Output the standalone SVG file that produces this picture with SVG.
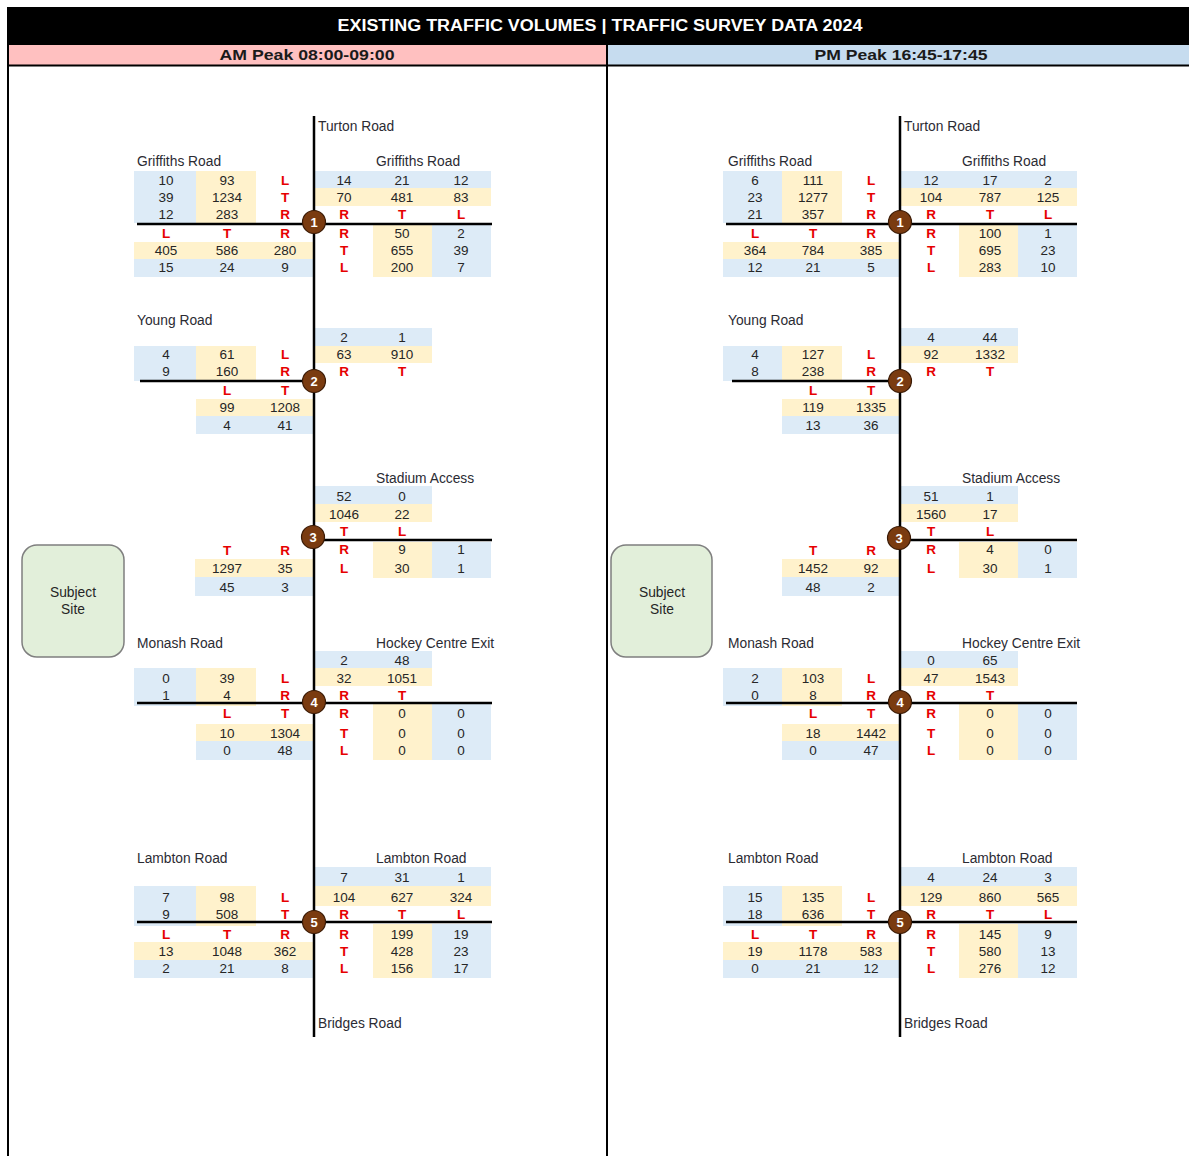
<svg xmlns="http://www.w3.org/2000/svg" width="1189" height="1156" viewBox="0 0 1189 1156">
<style>
text{font-family:"Liberation Sans",Arial,sans-serif}
.n{font-size:13.5px;fill:#262626;text-anchor:middle;dominant-baseline:central}
.d{font-size:13.5px;font-weight:bold;fill:#E60000;text-anchor:middle;dominant-baseline:central}
.lbl{font-size:13.8px;fill:#2b2b33;dominant-baseline:central}
.b{fill:#DDEBF7}
.y{fill:#FFF2CC}
.road{stroke:#000;stroke-width:2.5;fill:none}
.frame{stroke:#000;stroke-width:2;fill:none}
.node circle{fill:#7A3B10;stroke:#3a1a05;stroke-width:1.2}
.node text{font-size:13px;font-weight:bold;fill:#fff;text-anchor:middle;dominant-baseline:central}
.site rect{fill:#E2EFDA;stroke:#7f7f7f;stroke-width:1.5}
.site text{font-size:13.8px;fill:#262626;text-anchor:middle;dominant-baseline:central}
</style>

<!-- header -->
<g id="header">
<rect x="7" y="7" width="1182" height="38" fill="#000"/>
<text x="600" y="25" fill="#fff" font-size="16" font-weight="bold" text-anchor="middle" dominant-baseline="central" textLength="525" lengthAdjust="spacingAndGlyphs">EXISTING TRAFFIC VOLUMES | TRAFFIC SURVEY DATA 2024</text>
<rect x="8" y="45" width="598" height="20" fill="#FFC0C0"/>
<rect x="608" y="45" width="581" height="20" fill="#C6DCEF"/>
<text x="307" y="55" fill="#1a1a1a" font-size="14.5" font-weight="bold" text-anchor="middle" dominant-baseline="central" textLength="175" lengthAdjust="spacingAndGlyphs">AM Peak 08:00-09:00</text>
<text x="901" y="55" fill="#1a1a1a" font-size="14.5" font-weight="bold" text-anchor="middle" dominant-baseline="central" textLength="173" lengthAdjust="spacingAndGlyphs">PM Peak 16:45-17:45</text>
<line class="frame" x1="8" y1="44" x2="8" y2="1156"/>
<line class="frame" x1="607" y1="44" x2="607" y2="1156"/>
<line class="frame" x1="7" y1="65.5" x2="1189" y2="65.5"/>
</g>

<!-- ================= AM PANEL ================= -->
<g id="am-panel">
<g id="am-site" class="site">
<rect x="22" y="545" width="102" height="112" rx="15"/>
<text x="73" y="592">Subject</text>
<text x="73" y="609">Site</text>
</g>

<g id="am-int1">
<rect class="b" x="134" y="171" width="62" height="52"/>
<rect class="y" x="196" y="171" width="60" height="52"/>
<rect class="b" x="314" y="171" width="177" height="17"/>
<rect class="y" x="314" y="188" width="177" height="18"/>
<rect class="y" x="134" y="242" width="180" height="17"/>
<rect class="b" x="134" y="259" width="180" height="18"/>
<rect class="y" x="373" y="225" width="59" height="52"/>
<rect class="b" x="432" y="225" width="59" height="52"/>
<text class="lbl" x="318" y="126">Turton Road</text>
<text class="lbl" x="137" y="161">Griffiths Road</text>
<text class="lbl" x="376" y="161">Griffiths Road</text>
<text class="n" x="166" y="180">10</text><text class="n" x="227" y="180">93</text><text class="d" x="285" y="180">L</text>
<text class="n" x="166" y="197">39</text><text class="n" x="227" y="197">1234</text><text class="d" x="285" y="197">T</text>
<text class="n" x="166" y="214">12</text><text class="n" x="227" y="214">283</text><text class="d" x="285" y="214">R</text>
<text class="n" x="344" y="180">14</text><text class="n" x="402" y="180">21</text><text class="n" x="461" y="180">12</text>
<text class="n" x="344" y="197">70</text><text class="n" x="402" y="197">481</text><text class="n" x="461" y="197">83</text>
<text class="d" x="344" y="214">R</text><text class="d" x="402" y="214">T</text><text class="d" x="461" y="214">L</text>
<text class="d" x="166" y="233">L</text><text class="d" x="227" y="233">T</text><text class="d" x="285" y="233">R</text>
<text class="n" x="166" y="250">405</text><text class="n" x="227" y="250">586</text><text class="n" x="285" y="250">280</text>
<text class="n" x="166" y="267">15</text><text class="n" x="227" y="267">24</text><text class="n" x="285" y="267">9</text>
<text class="d" x="344" y="233">R</text><text class="n" x="402" y="233">50</text><text class="n" x="461" y="233">2</text>
<text class="d" x="344" y="250">T</text><text class="n" x="402" y="250">655</text><text class="n" x="461" y="250">39</text>
<text class="d" x="344" y="267">L</text><text class="n" x="402" y="267">200</text><text class="n" x="461" y="267">7</text>
</g>

<g id="am-int2">
<rect class="b" x="314" y="328" width="118" height="18"/>
<rect class="y" x="314" y="346" width="118" height="17"/>
<rect class="b" x="134" y="346" width="62" height="35"/>
<rect class="y" x="196" y="346" width="60" height="35"/>
<rect class="y" x="196" y="399" width="118" height="17"/>
<rect class="b" x="196" y="416" width="118" height="18"/>
<text class="lbl" x="137" y="320">Young Road</text>
<text class="n" x="344" y="337">2</text><text class="n" x="402" y="337">1</text>
<text class="n" x="166" y="354">4</text><text class="n" x="227" y="354">61</text><text class="d" x="285" y="354">L</text>
<text class="n" x="344" y="354">63</text><text class="n" x="402" y="354">910</text>
<text class="n" x="166" y="371">9</text><text class="n" x="227" y="371">160</text><text class="d" x="285" y="371">R</text>
<text class="d" x="344" y="371">R</text><text class="d" x="402" y="371">T</text>
<text class="d" x="227" y="390">L</text><text class="d" x="285" y="390">T</text>
<text class="n" x="227" y="407">99</text><text class="n" x="285" y="407">1208</text>
<text class="n" x="227" y="425">4</text><text class="n" x="285" y="425">41</text>
</g>

<g id="am-int3">
<rect class="b" x="314" y="486" width="118" height="18"/>
<rect class="y" x="314" y="504" width="118" height="18"/>
<rect class="y" x="373" y="542" width="59" height="36"/>
<rect class="b" x="432" y="542" width="59" height="36"/>
<rect class="y" x="195" y="559" width="119" height="18"/>
<rect class="b" x="195" y="577" width="119" height="19"/>
<text class="lbl" x="376" y="478">Stadium Access</text>
<text class="n" x="344" y="496">52</text><text class="n" x="402" y="496">0</text>
<text class="n" x="344" y="514">1046</text><text class="n" x="402" y="514">22</text>
<text class="d" x="344" y="531">T</text><text class="d" x="402" y="531">L</text>
<text class="d" x="344" y="549">R</text><text class="n" x="402" y="549">9</text><text class="n" x="461" y="549">1</text>
<text class="d" x="344" y="568">L</text><text class="n" x="402" y="568">30</text><text class="n" x="461" y="568">1</text>
<text class="d" x="227" y="550">T</text><text class="d" x="285" y="550">R</text>
<text class="n" x="227" y="568">1297</text><text class="n" x="285" y="568">35</text>
<text class="n" x="227" y="587">45</text><text class="n" x="285" y="587">3</text>
</g>

<g id="am-int4">
<rect class="b" x="314" y="651" width="118" height="17"/>
<rect class="y" x="314" y="668" width="118" height="18"/>
<rect class="b" x="134" y="668" width="62" height="38"/>
<rect class="y" x="196" y="668" width="60" height="38"/>
<rect class="y" x="196" y="724" width="118" height="17"/>
<rect class="b" x="196" y="741" width="118" height="19"/>
<rect class="y" x="373" y="704" width="59" height="56"/>
<rect class="b" x="432" y="704" width="59" height="56"/>
<text class="lbl" x="137" y="643">Monash Road</text>
<text class="lbl" x="376" y="643">Hockey Centre Exit</text>
<text class="n" x="344" y="660">2</text><text class="n" x="402" y="660">48</text>
<text class="n" x="166" y="678">0</text><text class="n" x="227" y="678">39</text><text class="d" x="285" y="678">L</text>
<text class="n" x="344" y="678">32</text><text class="n" x="402" y="678">1051</text>
<text class="n" x="166" y="695">1</text><text class="n" x="227" y="695">4</text><text class="d" x="285" y="695">R</text>
<text class="d" x="344" y="695">R</text><text class="d" x="402" y="695">T</text>
<text class="d" x="227" y="713">L</text><text class="d" x="285" y="713">T</text>
<text class="n" x="227" y="733">10</text><text class="n" x="285" y="733">1304</text>
<text class="n" x="227" y="750">0</text><text class="n" x="285" y="750">48</text>
<text class="d" x="344" y="713">R</text><text class="n" x="402" y="713">0</text><text class="n" x="461" y="713">0</text>
<text class="d" x="344" y="733">T</text><text class="n" x="402" y="733">0</text><text class="n" x="461" y="733">0</text>
<text class="d" x="344" y="750">L</text><text class="n" x="402" y="750">0</text><text class="n" x="461" y="750">0</text>
</g>

<g id="am-int5">
<rect class="b" x="314" y="867" width="177" height="19"/>
<rect class="y" x="314" y="886" width="177" height="20"/>
<rect class="b" x="134" y="886" width="62" height="40"/>
<rect class="y" x="196" y="886" width="60" height="40"/>
<rect class="y" x="134" y="942" width="180" height="18"/>
<rect class="b" x="134" y="960" width="180" height="18"/>
<rect class="y" x="373" y="924" width="59" height="54"/>
<rect class="b" x="432" y="924" width="59" height="54"/>
<text class="lbl" x="137" y="858">Lambton Road</text>
<text class="lbl" x="376" y="858">Lambton Road</text>
<text class="n" x="344" y="877">7</text><text class="n" x="402" y="877">31</text><text class="n" x="461" y="877">1</text>
<text class="n" x="166" y="897">7</text><text class="n" x="227" y="897">98</text><text class="d" x="285" y="897">L</text>
<text class="n" x="344" y="897">104</text><text class="n" x="402" y="897">627</text><text class="n" x="461" y="897">324</text>
<text class="n" x="166" y="914">9</text><text class="n" x="227" y="914">508</text><text class="d" x="285" y="914">T</text>
<text class="d" x="344" y="914">R</text><text class="d" x="402" y="914">T</text><text class="d" x="461" y="914">L</text>
<text class="d" x="166" y="934">L</text><text class="d" x="227" y="934">T</text><text class="d" x="285" y="934">R</text>
<text class="n" x="166" y="951">13</text><text class="n" x="227" y="951">1048</text><text class="n" x="285" y="951">362</text>
<text class="n" x="166" y="968">2</text><text class="n" x="227" y="968">21</text><text class="n" x="285" y="968">8</text>
<text class="d" x="344" y="934">R</text><text class="n" x="402" y="934">199</text><text class="n" x="461" y="934">19</text>
<text class="d" x="344" y="951">T</text><text class="n" x="402" y="951">428</text><text class="n" x="461" y="951">23</text>
<text class="d" x="344" y="968">L</text><text class="n" x="402" y="968">156</text><text class="n" x="461" y="968">17</text>
<text class="lbl" x="318" y="1023">Bridges Road</text>
</g>

<g id="am-roads">
<line class="road" x1="314" y1="116" x2="314" y2="1037"/>
<line class="road" x1="137" y1="224" x2="492" y2="224"/>
<line class="road" x1="140" y1="381" x2="314" y2="381"/>
<line class="road" x1="314" y1="540" x2="492" y2="540"/>
<line class="road" x1="137" y1="703" x2="492" y2="703"/>
<line class="road" x1="137" y1="922" x2="492" y2="922"/>
</g>

<g id="am-nodes">
<g id="am-n1" class="node"><circle cx="314" cy="222" r="11.5"/><text x="314" y="222">1</text></g>
<g id="am-n2" class="node"><circle cx="314" cy="381" r="11.5"/><text x="314" y="381">2</text></g>
<g id="am-n3" class="node"><circle cx="313" cy="537" r="11.5"/><text x="313" y="537">3</text></g>
<g id="am-n4" class="node"><circle cx="314" cy="702" r="11.5"/><text x="314" y="702">4</text></g>
<g id="am-n5" class="node"><circle cx="314" cy="922" r="11.5"/><text x="314" y="922">5</text></g>
</g>
</g>

<!-- ================= PM PANEL ================= -->
<g id="pm-panel" transform="translate(586,0)">
<g id="pm-site" class="site">
<rect x="25" y="545" width="101" height="112" rx="15"/>
<text x="76" y="592">Subject</text>
<text x="76" y="609">Site</text>
</g>

<g id="pm-int1">
<rect class="b" x="137" y="171" width="59" height="52"/>
<rect class="y" x="196" y="171" width="60" height="52"/>
<rect class="b" x="314" y="171" width="177" height="17"/>
<rect class="y" x="314" y="188" width="177" height="18"/>
<rect class="y" x="137" y="242" width="177" height="17"/>
<rect class="b" x="137" y="259" width="177" height="18"/>
<rect class="y" x="373" y="225" width="59" height="52"/>
<rect class="b" x="432" y="225" width="59" height="52"/>
<text class="lbl" x="318" y="126">Turton Road</text>
<text class="lbl" x="142" y="161">Griffiths Road</text>
<text class="lbl" x="376" y="161">Griffiths Road</text>
<text class="n" x="169" y="180">6</text><text class="n" x="227" y="180">111</text><text class="d" x="285" y="180">L</text>
<text class="n" x="169" y="197">23</text><text class="n" x="227" y="197">1277</text><text class="d" x="285" y="197">T</text>
<text class="n" x="169" y="214">21</text><text class="n" x="227" y="214">357</text><text class="d" x="285" y="214">R</text>
<text class="n" x="345" y="180">12</text><text class="n" x="404" y="180">17</text><text class="n" x="462" y="180">2</text>
<text class="n" x="345" y="197">104</text><text class="n" x="404" y="197">787</text><text class="n" x="462" y="197">125</text>
<text class="d" x="345" y="214">R</text><text class="d" x="404" y="214">T</text><text class="d" x="462" y="214">L</text>
<text class="d" x="169" y="233">L</text><text class="d" x="227" y="233">T</text><text class="d" x="285" y="233">R</text>
<text class="n" x="169" y="250">364</text><text class="n" x="227" y="250">784</text><text class="n" x="285" y="250">385</text>
<text class="n" x="169" y="267">12</text><text class="n" x="227" y="267">21</text><text class="n" x="285" y="267">5</text>
<text class="d" x="345" y="233">R</text><text class="n" x="404" y="233">100</text><text class="n" x="462" y="233">1</text>
<text class="d" x="345" y="250">T</text><text class="n" x="404" y="250">695</text><text class="n" x="462" y="250">23</text>
<text class="d" x="345" y="267">L</text><text class="n" x="404" y="267">283</text><text class="n" x="462" y="267">10</text>
</g>

<g id="pm-int2">
<rect class="b" x="314" y="328" width="118" height="18"/>
<rect class="y" x="314" y="346" width="118" height="17"/>
<rect class="b" x="137" y="346" width="59" height="35"/>
<rect class="y" x="196" y="346" width="60" height="35"/>
<rect class="y" x="196" y="399" width="118" height="17"/>
<rect class="b" x="196" y="416" width="118" height="18"/>
<text class="lbl" x="142" y="320">Young Road</text>
<text class="n" x="345" y="337">4</text><text class="n" x="404" y="337">44</text>
<text class="n" x="169" y="354">4</text><text class="n" x="227" y="354">127</text><text class="d" x="285" y="354">L</text>
<text class="n" x="345" y="354">92</text><text class="n" x="404" y="354">1332</text>
<text class="n" x="169" y="371">8</text><text class="n" x="227" y="371">238</text><text class="d" x="285" y="371">R</text>
<text class="d" x="345" y="371">R</text><text class="d" x="404" y="371">T</text>
<text class="d" x="227" y="390">L</text><text class="d" x="285" y="390">T</text>
<text class="n" x="227" y="407">119</text><text class="n" x="285" y="407">1335</text>
<text class="n" x="227" y="425">13</text><text class="n" x="285" y="425">36</text>
</g>

<g id="pm-int3">
<rect class="b" x="314" y="486" width="118" height="18"/>
<rect class="y" x="314" y="504" width="118" height="18"/>
<rect class="y" x="373" y="542" width="59" height="36"/>
<rect class="b" x="432" y="542" width="59" height="36"/>
<rect class="y" x="196" y="559" width="118" height="18"/>
<rect class="b" x="196" y="577" width="118" height="19"/>
<text class="lbl" x="376" y="478">Stadium Access</text>
<text class="n" x="345" y="496">51</text><text class="n" x="404" y="496">1</text>
<text class="n" x="345" y="514">1560</text><text class="n" x="404" y="514">17</text>
<text class="d" x="345" y="531">T</text><text class="d" x="404" y="531">L</text>
<text class="d" x="345" y="549">R</text><text class="n" x="404" y="549">4</text><text class="n" x="462" y="549">0</text>
<text class="d" x="345" y="568">L</text><text class="n" x="404" y="568">30</text><text class="n" x="462" y="568">1</text>
<text class="d" x="227" y="550">T</text><text class="d" x="285" y="550">R</text>
<text class="n" x="227" y="568">1452</text><text class="n" x="285" y="568">92</text>
<text class="n" x="227" y="587">48</text><text class="n" x="285" y="587">2</text>
</g>

<g id="pm-int4">
<rect class="b" x="314" y="651" width="118" height="17"/>
<rect class="y" x="314" y="668" width="118" height="18"/>
<rect class="b" x="137" y="668" width="59" height="38"/>
<rect class="y" x="196" y="668" width="60" height="38"/>
<rect class="y" x="196" y="724" width="118" height="17"/>
<rect class="b" x="196" y="741" width="118" height="19"/>
<rect class="y" x="373" y="704" width="59" height="56"/>
<rect class="b" x="432" y="704" width="59" height="56"/>
<text class="lbl" x="142" y="643">Monash Road</text>
<text class="lbl" x="376" y="643">Hockey Centre Exit</text>
<text class="n" x="345" y="660">0</text><text class="n" x="404" y="660">65</text>
<text class="n" x="169" y="678">2</text><text class="n" x="227" y="678">103</text><text class="d" x="285" y="678">L</text>
<text class="n" x="345" y="678">47</text><text class="n" x="404" y="678">1543</text>
<text class="n" x="169" y="695">0</text><text class="n" x="227" y="695">8</text><text class="d" x="285" y="695">R</text>
<text class="d" x="345" y="695">R</text><text class="d" x="404" y="695">T</text>
<text class="d" x="227" y="713">L</text><text class="d" x="285" y="713">T</text>
<text class="n" x="227" y="733">18</text><text class="n" x="285" y="733">1442</text>
<text class="n" x="227" y="750">0</text><text class="n" x="285" y="750">47</text>
<text class="d" x="345" y="713">R</text><text class="n" x="404" y="713">0</text><text class="n" x="462" y="713">0</text>
<text class="d" x="345" y="733">T</text><text class="n" x="404" y="733">0</text><text class="n" x="462" y="733">0</text>
<text class="d" x="345" y="750">L</text><text class="n" x="404" y="750">0</text><text class="n" x="462" y="750">0</text>
</g>

<g id="pm-int5">
<rect class="b" x="314" y="867" width="177" height="19"/>
<rect class="y" x="314" y="886" width="177" height="20"/>
<rect class="b" x="137" y="886" width="59" height="40"/>
<rect class="y" x="196" y="886" width="60" height="40"/>
<rect class="y" x="137" y="942" width="177" height="18"/>
<rect class="b" x="137" y="960" width="177" height="18"/>
<rect class="y" x="373" y="924" width="59" height="54"/>
<rect class="b" x="432" y="924" width="59" height="54"/>
<text class="lbl" x="142" y="858">Lambton Road</text>
<text class="lbl" x="376" y="858">Lambton Road</text>
<text class="n" x="345" y="877">4</text><text class="n" x="404" y="877">24</text><text class="n" x="462" y="877">3</text>
<text class="n" x="169" y="897">15</text><text class="n" x="227" y="897">135</text><text class="d" x="285" y="897">L</text>
<text class="n" x="345" y="897">129</text><text class="n" x="404" y="897">860</text><text class="n" x="462" y="897">565</text>
<text class="n" x="169" y="914">18</text><text class="n" x="227" y="914">636</text><text class="d" x="285" y="914">T</text>
<text class="d" x="345" y="914">R</text><text class="d" x="404" y="914">T</text><text class="d" x="462" y="914">L</text>
<text class="d" x="169" y="934">L</text><text class="d" x="227" y="934">T</text><text class="d" x="285" y="934">R</text>
<text class="n" x="169" y="951">19</text><text class="n" x="227" y="951">1178</text><text class="n" x="285" y="951">583</text>
<text class="n" x="169" y="968">0</text><text class="n" x="227" y="968">21</text><text class="n" x="285" y="968">12</text>
<text class="d" x="345" y="934">R</text><text class="n" x="404" y="934">145</text><text class="n" x="462" y="934">9</text>
<text class="d" x="345" y="951">T</text><text class="n" x="404" y="951">580</text><text class="n" x="462" y="951">13</text>
<text class="d" x="345" y="968">L</text><text class="n" x="404" y="968">276</text><text class="n" x="462" y="968">12</text>
<text class="lbl" x="318" y="1023">Bridges Road</text>
</g>

<g id="pm-roads">
<line class="road" x1="314" y1="116" x2="314" y2="1037"/>
<line class="road" x1="140" y1="224" x2="491" y2="224"/>
<line class="road" x1="146" y1="381" x2="314" y2="381"/>
<line class="road" x1="314" y1="540" x2="491" y2="540"/>
<line class="road" x1="140" y1="703" x2="491" y2="703"/>
<line class="road" x1="140" y1="922" x2="491" y2="922"/>
</g>

<g id="pm-nodes">
<g id="pm-n1" class="node"><circle cx="314" cy="222" r="11.5"/><text x="314" y="222">1</text></g>
<g id="pm-n2" class="node"><circle cx="314" cy="381" r="11.5"/><text x="314" y="381">2</text></g>
<g id="pm-n3" class="node"><circle cx="313" cy="538" r="11.5"/><text x="313" y="538">3</text></g>
<g id="pm-n4" class="node"><circle cx="314" cy="702" r="11.5"/><text x="314" y="702">4</text></g>
<g id="pm-n5" class="node"><circle cx="314" cy="922" r="11.5"/><text x="314" y="922">5</text></g>
</g>
</g>
</svg>
